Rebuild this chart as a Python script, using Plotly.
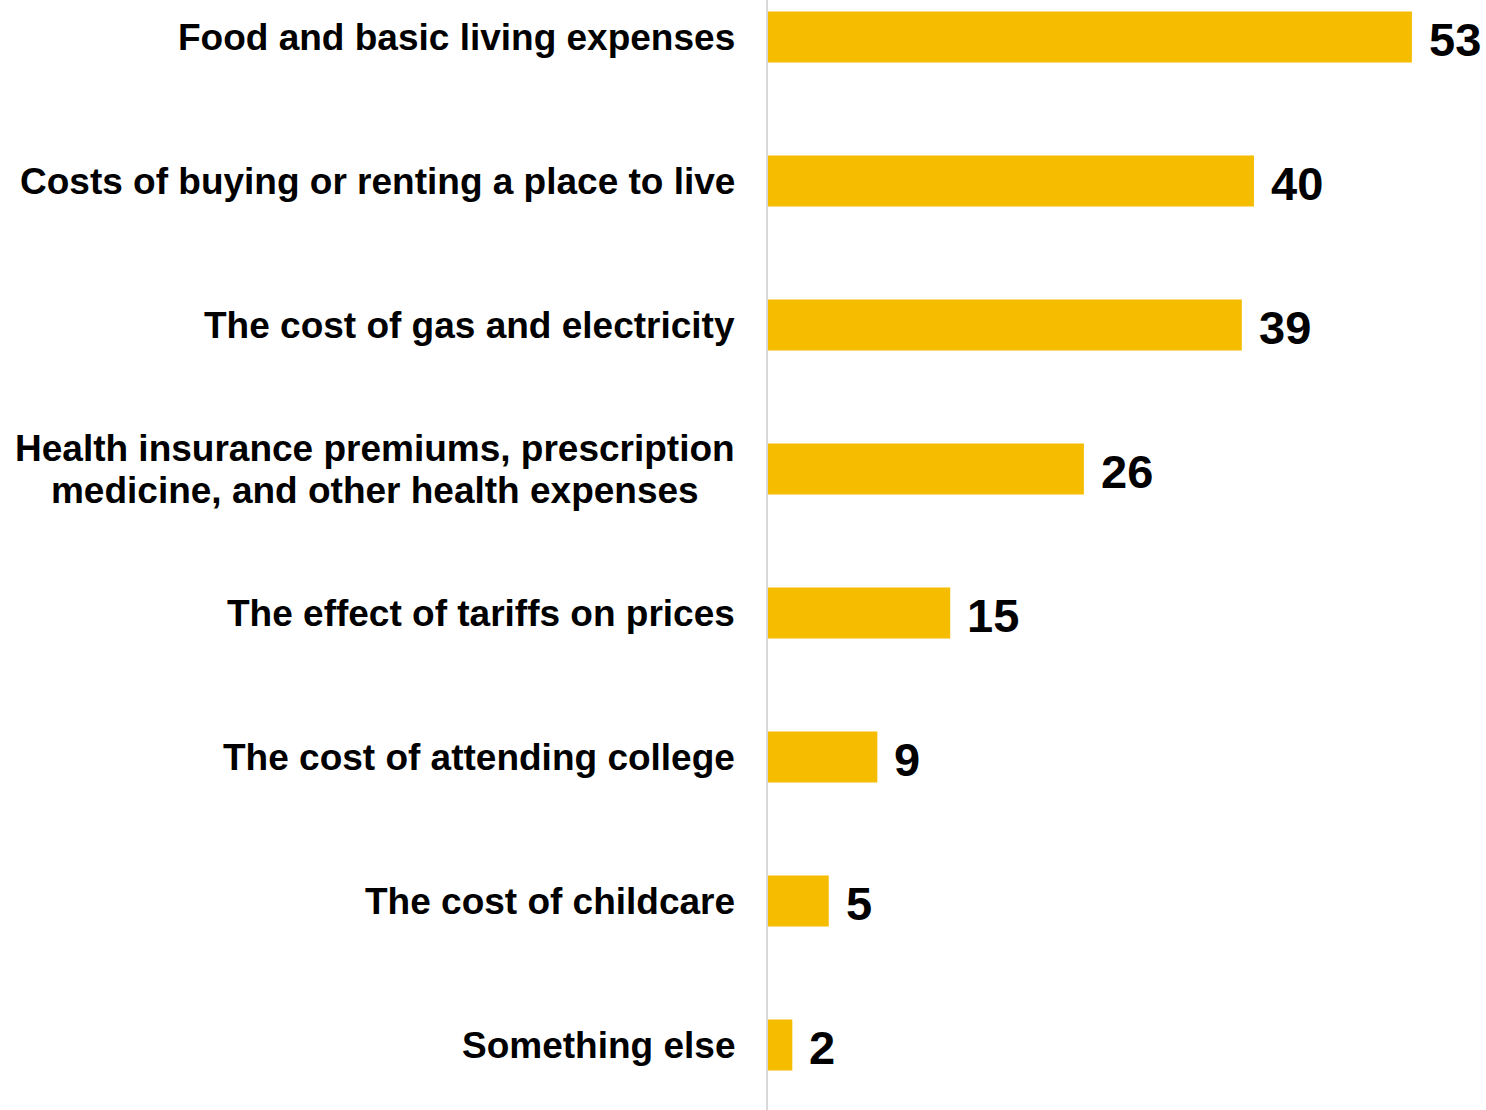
import plotly.graph_objects as go

categories = [
    "Food and basic living expenses",
    "Costs of buying or renting a place to live",
    "The cost of gas and electricity",
    "Health insurance premiums, prescription<br>medicine, and other health expenses",
    "The effect of tariffs on prices",
    "The cost of attending college",
    "The cost of childcare",
    "Something else",
]
values = [53, 40, 39, 26, 15, 9, 5, 2]

BAR_COLOR = "#F5BC00"
FONT = "Liberation Sans, Arial, sans-serif"
LABEL_SIZE = 37
LINE_SIZE = 32.3  # controls line spacing of multi-line labels


def label_text(cat):
    lines = cat.split("<br>")
    return "<br>".join(
        f'<span style="font-size:{LABEL_SIZE}px">{ln}</span>' for ln in lines
    )


fig = go.Figure()
fig.add_trace(go.Bar(
    x=values, y=categories, orientation="h",
    marker=dict(color=BAR_COLOR, line=dict(width=0)),
    width=0.354, hoverinfo="skip",
))

annotations = []
for cat, val in zip(categories, values):
    multi = "<br>" in cat
    annotations.append(dict(
        x=0, xref="paper", y=cat, yref="y",
        text=label_text(cat) if multi else cat,
        xanchor="right", yanchor="middle", xshift=-31, align="center",
        showarrow=False,
        font=dict(family=FONT, size=LINE_SIZE if multi else LABEL_SIZE,
                  color="black", weight="bold"),
    ))
    annotations.append(dict(
        x=val, xref="x", y=cat, yref="y", text=str(val),
        xanchor="left", yanchor="middle", xshift=15, yshift=-2,
        showarrow=False, font=dict(family=FONT, size=47, color="black", weight="bold"),
    ))

fig.update_layout(
    width=1486, height=1110,
    margin=dict(l=768, r=0, t=0, b=0),
    paper_bgcolor="white", plot_bgcolor="white",
    showlegend=False,
    annotations=annotations,
    xaxis=dict(range=[0, 59.1], visible=False, fixedrange=True),
    yaxis=dict(
        type="category", categoryorder="array", categoryarray=categories,
        range=[7.451, -0.257], showticklabels=False, ticks="",
        showgrid=False, zeroline=False, fixedrange=True,
        showline=True, linecolor="#d9d9d9", linewidth=2,
    ),
)

fig.write_html(
    "out.html",
    config={"displayModeBar": False},
    post_script="document.body.style.margin='0';document.body.style.overflow='hidden';",
)
